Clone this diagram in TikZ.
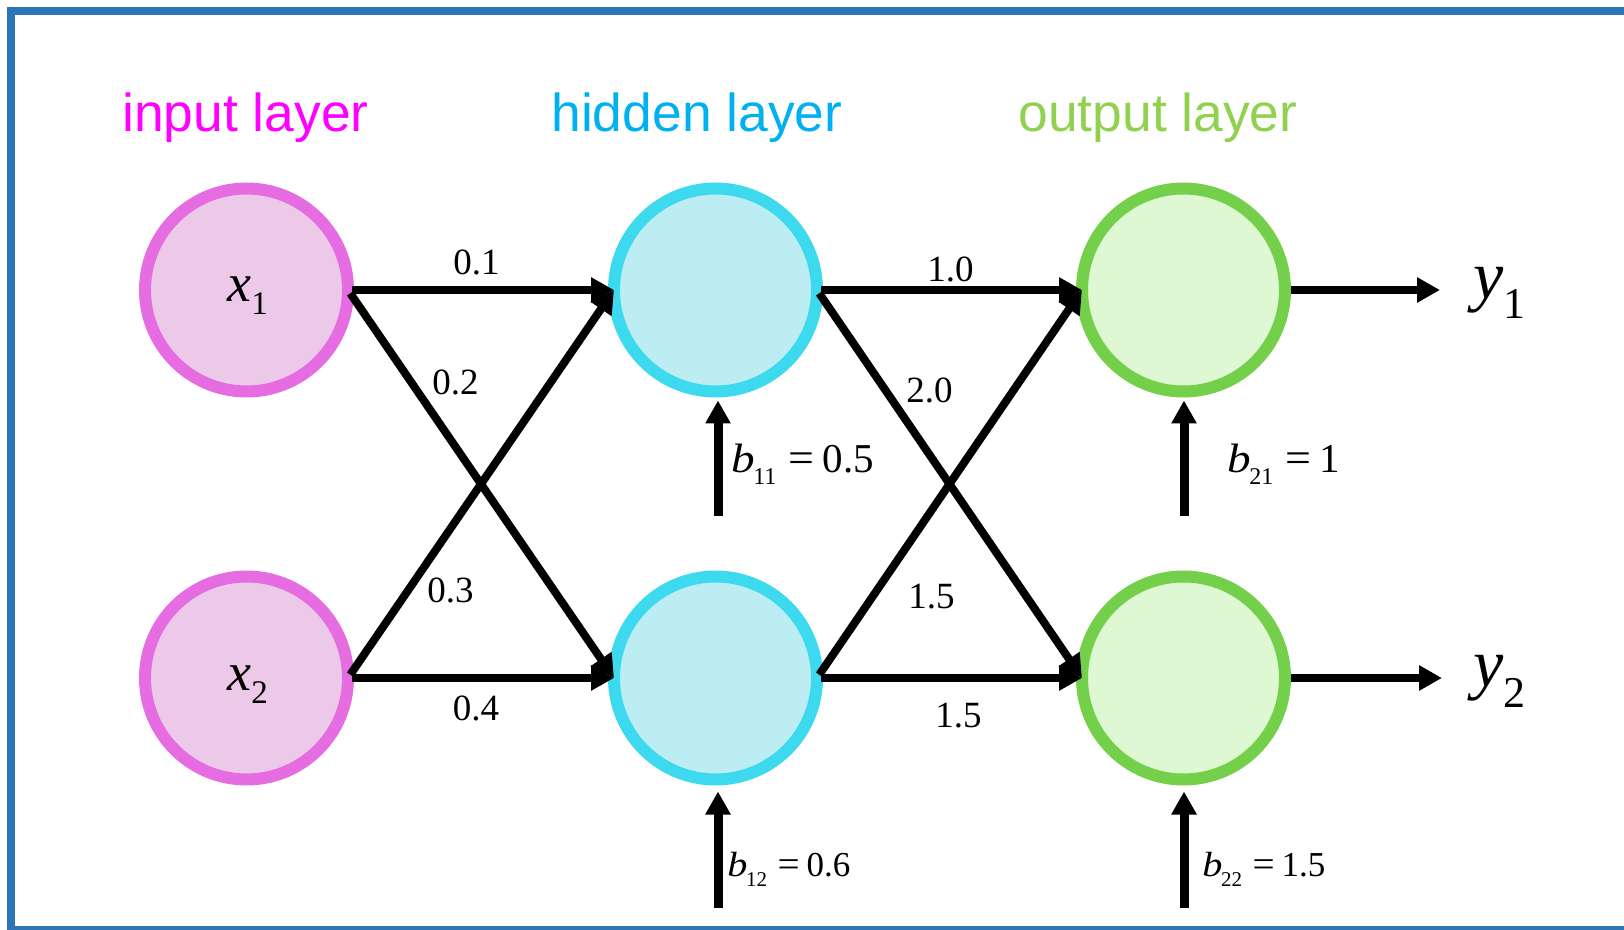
\documentclass[tikz,border=0pt]{standalone}
\usepackage{fontspec}
\setmainfont{Liberation Serif}
\newfontfamily\titlesans{Liberation Sans}
\usetikzlibrary{arrows.meta}
\definecolor{frameblue}{RGB}{46,117,182}
\definecolor{inStroke}{RGB}{230,108,226}
\definecolor{inFill}{RGB}{236,201,232}
\definecolor{hidStroke}{RGB}{61,217,238}
\definecolor{hidFill}{RGB}{188,237,242}
\definecolor{outStroke}{RGB}{116,208,74}
\definecolor{outFill}{RGB}{222,248,211}
\definecolor{inTitle}{RGB}{255,0,255}
\definecolor{hidTitle}{RGB}{0,176,240}
\definecolor{outTitle}{RGB}{146,208,80}
\newcommand{\biaslab}[3]{\scalebox{1.15}[1]{\textit{b}}\kern-0.04em\raisebox{-0.29em}{\fontsize{#3}{#3}\selectfont #1}\kern0.3em\scalebox{1.12}[1.05]{=}\kern0.2em#2}
\begin{document}
\begin{tikzpicture}[x=0.5pt,y=-0.5pt,
  neuron/.style={circle, minimum size=101.5pt, inner sep=0pt, outer sep=0pt, line width=6pt},
  inputn/.style={neuron, draw=inStroke, fill=inFill},
  hiddenn/.style={neuron, draw=hidStroke, fill=hidFill},
  outputn/.style={neuron, draw=outStroke, fill=outFill},
  conn/.style={line width=4pt, shorten <=2pt, -{Triangle[length=11.5pt,width=12pt]}},
  biasarrow/.style={line width=4.5pt, -{Triangle[length=11.5pt,width=12pt]}},
  wlabel/.style={font=\fontsize{18.5}{20}\selectfont, anchor=base, inner sep=0pt},
  blabtop/.style={font=\fontsize{20.5}{22}\selectfont, anchor=base west, inner sep=0pt},
  blabbot/.style={font=\fontsize{17.5}{19}\selectfont, anchor=base west, inner sep=0pt},
  ltitle/.style={font=\titlesans\fontsize{26.7}{30}\selectfont, anchor=base west, inner sep=0pt},
  vlab/.style={anchor=base west, inner sep=0pt}
]
\useasboundingbox (0,0) rectangle (1624,930);
\begin{scope}
\clip (0,0) rectangle (1624,930);
\draw[frameblue, line width=4pt] (11,11) rectangle (1660,930);
\end{scope}

% titles
\node[ltitle, text=inTitle] (tin) at (122,132) {input layer};
\node[ltitle, text=hidTitle] (thid) at (551,132) {hidden layer};
\node[ltitle, text=outTitle] (tout) at (1018,132) {output layer};

% neurons
\node[inputn] (x1) at (246.5,290) {};
\node[inputn] (x2) at (246.5,678) {};
\node[hiddenn] (h1) at (715.5,290) {};
\node[hiddenn] (h2) at (715.5,678) {};
\node[outputn] (o1) at (1183.5,290) {};
\node[outputn] (o2) at (1183.5,678) {};

% neuron labels
\node[vlab] (lx1) at (227,302) {\fontsize{27}{30}\selectfont\textit{x}\raisebox{-6.5pt}{\fontsize{16.5}{18}\selectfont 1}};
\node[vlab] (lx2) at (227,690) {\fontsize{27}{30}\selectfont\textit{x}\raisebox{-6.5pt}{\fontsize{16.5}{18}\selectfont 2}};

% connections
\draw[conn] (x1.east) -- (h1.west);
\draw[conn] (x1.east) -- (h2.west);
\draw[conn] (x2.east) -- (h1.west);
\draw[conn] (x2.east) -- (h2.west);
\draw[conn] (h1.east) -- (o1.west);
\draw[conn] (h1.east) -- (o2.west);
\draw[conn] (h2.east) -- (o1.west);
\draw[conn] (h2.east) -- (o2.west);

% weights
\node[wlabel] (w11) at (476.5,275) {0.1};
\node[wlabel] (w12) at (455.5,395) {0.2};
\node[wlabel] (w21) at (450.5,603) {0.3};
\node[wlabel] (w22) at (476,720) {0.4};
\node[wlabel] (v11) at (950.5,282) {1.0};
\node[wlabel] (v12) at (929.5,403) {2.0};
\node[wlabel] (v21) at (931.5,609) {1.5};
\node[wlabel] (v22) at (958.5,727) {1.5};

% outputs
\coordinate (y1e) at (1440,290);
\coordinate (y2e) at (1442,678);
\draw[conn, shorten <=3pt] (o1.east) -- (y1e);
\draw[conn, shorten <=3pt] (o2.east) -- (y2e);
\node[vlab] (ly1) at (1473,299) {\fontsize{34}{36}\selectfont\textit{y}\raisebox{-10pt}{\fontsize{22}{24}\selectfont 1}};
\node[vlab] (ly2) at (1473,687) {\fontsize{34}{36}\selectfont\textit{y}\raisebox{-10pt}{\fontsize{22}{24}\selectfont 2}};

% biases
\coordinate (bh1) at (718,516);
\coordinate (bh2) at (718,908);
\coordinate (bo1) at (1184,516);
\coordinate (bo2) at (1184,908);
\draw[biasarrow, shorten >=4.5pt] (bh1) -- (bh1 |- h1.south);
\draw[biasarrow, shorten >=6pt] (bh2) -- (bh2 |- h2.south);
\draw[biasarrow, shorten >=4.5pt] (bo1) -- (bo1 |- o1.south);
\draw[biasarrow, shorten >=6pt] (bo2) -- (bo2 |- o2.south);

\node[blabtop] (lb11) at (731,473) {\biaslab{11}{0.5}{12}};
\node[blabtop] (lb21) at (1227,473) {\biaslab{21}{1}{12}};
\node[blabbot] (lb12) at (727,876) {\biaslab{12}{0.6}{10.5}};
\node[blabbot] (lb22) at (1202,876) {\biaslab{22}{1.5}{10.5}};
\end{tikzpicture}
\end{document}
